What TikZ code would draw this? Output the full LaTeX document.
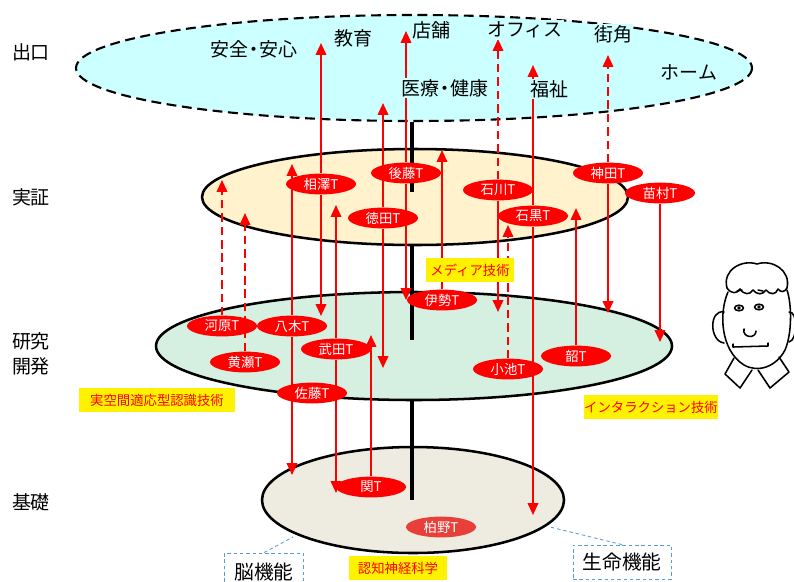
\documentclass[tikz,border=0pt]{standalone}
\usepackage{fontspec}
\setmainfont{Noto Sans CJK JP}
\usetikzlibrary{shapes.geometric,arrows.meta,backgrounds}
\definecolor{exitcol}{HTML}{CCFFFF}
\definecolor{democol}{HTML}{FFF2CC}
\definecolor{rdcol}{HTML}{D5EFE0}
\definecolor{basecol}{HTML}{EEECE1}
\definecolor{teamred}{HTML}{FF0000}
\definecolor{paleteam}{HTML}{E84038}
\definecolor{fieldblue}{HTML}{5B9BD5}
\newcommand{\middot}{\hspace{-0.22em}・\hspace{-0.22em}}
\tikzset{
  disc/.style={line width=1.8pt},
  pole/.style={line width=3pt},
  team/.style={ellipse,fill=teamred,text=white,minimum width=1.75cm,minimum height=0.52cm,
    inner sep=0pt,font=\fontsize{9.5}{10}\selectfont},
  tech/.style={fill=yellow,text=red,inner sep=0pt,minimum height=0.62cm,
    font=\fontsize{9.5}{10}\selectfont},
  field/.style={draw=fieldblue,dash pattern=on 2.5pt off 2pt,line width=0.6pt,
    font=\fontsize{14}{16}\selectfont},
  level/.style={font=\fontsize{13.5}{18}\selectfont,align=center},
  place/.style={fill=exitcol,inner sep=1pt,font=\fontsize{13.5}{16}\selectfont},
  link/.style={draw=red,line width=1.4pt,-{Triangle[length=8.5pt,width=7.5pt]}},
  dlink/.style={link,dash pattern=on 6pt off 3.5pt}
}
\begin{document}
\begin{tikzpicture}[x=0.025cm,y=-0.025cm]
  \useasboundingbox (0,0) rectangle (794,581);
  \draw
    (31,52) node[level] (exit){出口}
    (31,197) node[level] (demo){実証}
    (31,354) node[level] (rd){研究\\開発}
    (31,502) node[level] (basis){基礎};
  \draw
    (254,49) node[place] (safety){安全\middot 安心}
    (353,38) node[place] (school){教育}
    (431,30) node[place] (shop){店舗}
    (445,88) node[place] (health){医療\middot 健康}
    (525,30) node[place] (office){オフィス}
    (613,34) node[place] (street){街角}
    (549,89) node[place] (welfare){福祉}
    (689,72) node[place] (home){ホーム};
  \draw
    (321,184) node[team] (aizawa){相澤T}
    (406,173) node[team] (goto){後藤T}
    (383,218) node[team] (tokuda){徳田T}
    (498,190) node[team] (ishikawa){石川T}
    (533,216) node[team] (ishiguro){石黒T}
    (608,173) node[team] (kanda){神田T}
    (660,193) node[team] (namura){苗村T}
    (442,300) node[team] (ise){伊勢T}
    (222,326) node[team] (kawahara){河原T}
    (292,326) node[team] (yagi){八木T}
    (245,362) node[team] (kise){黄瀬T}
    (336,349) node[team] (takeda){武田T}
    (312,393) node[team] (sato){佐藤T}
    (508,369) node[team] (koike){小池T}
    (576,356) node[team] (shao){韶T}
    (371,487) node[team] (seki){関T}
    (441,527) node[team,fill=paleteam] (kashino){柏野T};
  \draw
    (470,270) node[tech,minimum width=2.2cm] (media){メディア技術}
    (157,400) node[tech,minimum width=3.875cm] (space){実空間適応型認識技術}
    (651,407) node[tech,minimum width=3.3cm] (inter){インタラクション技術}
    (398,568) node[tech,minimum width=2.45cm] (neuro){認知神経科学};
  \draw
    (264,572) node[field,minimum width=1.975cm,minimum height=0.95cm] (brain){脳機能}
    (622,562) node[field,minimum width=2.45cm,minimum height=0.85cm] (life){生命機能};
  \coordinate (brain end) at (293,537);
  \coordinate (life end) at (550,527);
  \draw[field] (brain.north) -- (brain end);
  \draw[field] (life.north) -- (life end);

  \coordinate (kawahara up) at (222,180);
  \coordinate (kise up) at (245,213);
  \coordinate (yagi up) at (292,164);
  \coordinate (yagi down) at (292,475);
  \coordinate (aizawa up) at (321,43);
  \coordinate (aizawa down) at (321,316);
  \coordinate (takeda up) at (336,205);
  \coordinate (takeda down) at (336,493);
  \coordinate (tokuda up) at (383,103);
  \coordinate (tokuda down) at (383,368);
  \coordinate (goto up) at (406,31);
  \coordinate (goto down) at (406,300);
  \coordinate (ise up) at (442,150);
  \coordinate (ishikawa up) at (498,39);
  \coordinate (ishikawa down) at (498,312);
  \coordinate (ishiguro up) at (533,65);
  \coordinate (ishiguro down) at (533,515);
  \coordinate (koike up) at (508,225);
  \coordinate (shao up) at (576,208);
  \coordinate (kanda up) at (608,55);
  \coordinate (kanda down) at (608,313);
  \coordinate (namura down) at (660,342);
  \coordinate (seki up) at (371,335);

  \begin{scope}[on background layer]
    \draw[disc,fill=basecol] (413,500) ellipse [x radius=151,y radius=53];
    \draw[disc,fill=rdcol] (414,346) ellipse [x radius=258,y radius=54];
    \draw[disc,fill=democol] (415,197) ellipse [x radius=213,y radius=48];
    \draw[line width=1.5pt,dash pattern=on 7pt off 4pt,fill=exitcol] (414,68) ellipse [x radius=338,y radius=53];
    \draw[pole] (412,122) -- (412,192);
    \draw[pole] (412,244) -- (412,340);
    \draw[pole] (412,400) -- (412,500);
    \draw[dlink] (kawahara) to (kawahara up);
    \draw[dlink] (kise) to (kise up);
    \draw[link] (yagi) to (yagi up);
    \draw[link] (yagi) to (yagi down);
    \draw[link] (aizawa) to (aizawa up);
    \draw[link] (aizawa) to (aizawa down);
    \draw[link] (takeda) to (takeda up);
    \draw[link] (takeda) to (takeda down);
    \draw[link] (tokuda) to (tokuda up);
    \draw[link] (tokuda) to (tokuda down);
    \draw[link] (goto) to (goto up);
    \draw[link] (goto) to (goto down);
    \draw[link] (ise) to (ise up);
    \draw[dlink] (ishikawa) to (ishikawa up);
    \draw[link] (ishikawa) to (ishikawa down);
    \draw[link] (ishiguro) to (ishiguro up);
    \draw[link] (ishiguro) to (ishiguro down);
    \draw[dlink] (koike) to (koike up);
    \draw[link] (shao) to (shao up);
    \draw[dlink] (kanda) to (kanda up);
    \draw[link] (kanda) to (kanda down);
    \draw[link] (namura) to (namura down);
    \draw[link] (seki) to (seki up);
  \end{scope}

  \begin{scope}[line width=1.1pt,line cap=round,line join=round]
    \draw (727,288) .. controls (722,270) and (742,259) .. (757,264)
      .. controls (772,259) and (791,270) .. (787,288);
    \draw (727,288) .. controls (731,294) and (737,294) .. (740,289)
      .. controls (744,295) and (750,295) .. (753,290)
      .. controls (757,295) and (763,295) .. (766,290)
      .. controls (770,295) and (776,295) .. (778,289)
      .. controls (781,293) and (785,292) .. (787,288);
    \draw (728,292) .. controls (719,312) and (720,350) .. (744,365)
      .. controls (758,373) and (776,367) .. (785,350)
      .. controls (792,334) and (792,305) .. (787,290);
    \draw (724,312) .. controls (709,309) and (709,341) .. (724,343);
    \draw (789,312) .. controls (798,311) and (798,340) .. (789,342);
    \draw (737,291) -- (742,290);
    \draw (758,290) -- (763,291);
    \draw (739,308) ellipse [x radius=4.5,y radius=2.8];
    \fill (739,308) circle [radius=1.8];
    \draw (759,307) ellipse [x radius=4.5,y radius=2.8];
    \fill (759,307) circle [radius=1.8];
    \draw (744,329) .. controls (742,338) and (756,339) .. (756,331);
    \draw (733,344) -- (733,347) -- (768,346) -- (768,343);
    \draw (734,358) -- (725,374) -- (740,388) -- (752,370);
    \draw (779,357) -- (789,372) -- (770,388) -- (758,370);
  \end{scope}
\end{tikzpicture}
\end{document}
